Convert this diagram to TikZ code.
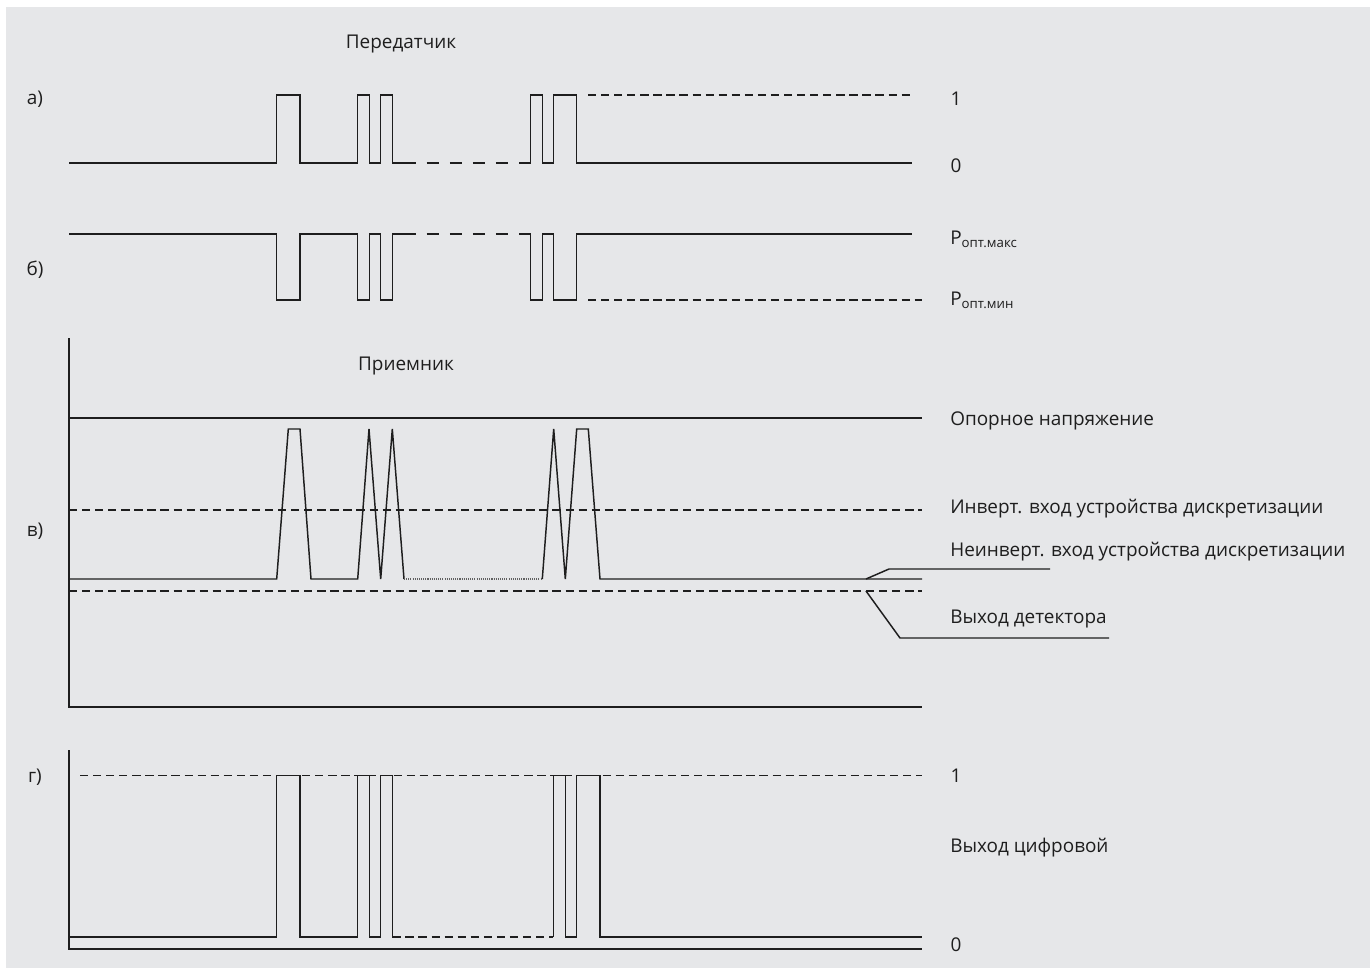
\documentclass[tikz,border=0pt]{standalone}
\usepackage{fontspec}
\setmainfont{Open Sans}
\definecolor{bg}{RGB}{230,231,233}
\definecolor{ln}{RGB}{30,30,30}
\begin{document}
\begin{tikzpicture}[x=0.75pt,y=-0.75pt,
  sig/.style={draw=ln,line width=1.1pt,line join=miter},
  dsh/.style={draw=ln,line width=1.1pt,dash pattern=on 6.2pt off 3.6pt},
  gapdash/.style={draw=ln,line width=1.1pt,dash pattern=on 9.4pt off 7.9pt},
  dots/.style={draw=ln!70,line width=0.8pt,dash pattern=on 0.8pt off 0.8pt},
  lbl/.style={font=\fontsize{14.2pt}{17pt}\selectfont,text=ln,inner sep=0pt},
  rlbl/.style={lbl,anchor=west}]
\useasboundingbox (0,0) rectangle (1370,968);
\fill[bg] (6,7) rectangle (1370,968);

% ---------- а) transmitter electrical ----------
\node[lbl] (ta) at (35,99) {а)};
\node[lbl] (tx) at (401,44) {Передатчик};
\draw[sig] (69,163) -- (276.7,163) -- (276.7,95) -- (300,95) -- (300,163) -- (357.7,163) -- (357.7,95) -- (369.3,95) -- (369.3,163) -- (380.7,163) -- (380.7,95) -- (392.3,95) -- (392.3,163) -- (415.7,163);
\draw[gapdash] (426.7,163) -- (508.3,163);
\draw[sig] (519.3,163) -- (530.7,163) -- (530.7,95) -- (542.3,95) -- (542.3,163) -- (553.7,163) -- (553.7,95) -- (576.7,95) -- (576.7,163) -- (912,163);
\draw[dsh] (588,95) -- (912,95);
\node[lbl] (a1) at (956,99) {1};
\node[lbl] (a0) at (956,166) {0};

% ---------- б) optical power ----------
\node[lbl] (tb) at (35,270) {б)};
\draw[sig] (69,234) -- (276.7,234) -- (276.7,300) -- (300,300) -- (300,234) -- (357.7,234) -- (357.7,300) -- (369.3,300) -- (369.3,234) -- (380.7,234) -- (380.7,300) -- (392.3,300) -- (392.3,234) -- (415.7,234);
\draw[gapdash] (426.7,234) -- (508.3,234);
\draw[sig] (519.3,234) -- (530.7,234) -- (530.7,300) -- (542.3,300) -- (542.3,234) -- (553.7,234) -- (553.7,300) -- (576.7,300) -- (576.7,234) -- (912,234);
\draw[dsh] (588,300) -- (922,300);
\node[rlbl] (pmax) at (950,239) {P\textsubscript{опт.макс}};
\node[rlbl] (pmin) at (950,300) {P\textsubscript{опт.мин}};

% ---------- в) receiver ----------
\node[lbl] (tv) at (35,531) {в)};
\node[lbl] (rx) at (406,366) {Приемник};
\draw[sig] (69,338) -- (69,707) -- (922,707);
\draw[sig] (69,418) -- (922,418);
\draw[dsh] (69,510) -- (922,510);
\draw[dsh] (69,591) -- (922,591);
\draw[sig] (69,579) -- (276.7,579) -- (288.3,429) -- (300,429) -- (311,579) -- (357.7,579) -- (369,429) -- (380.7,579) -- (392.3,429) -- (404,579);
\draw[dots] (404,579) -- (542.3,579);
\draw[sig] (542.3,579) -- (553.7,429) -- (565.3,579) -- (576.7,429) -- (588.3,429) -- (600,579) -- (922,579);
\node[rlbl] (vref) at (950,421) {Опорное напряжение};
\node[rlbl] (vinv) at (950,509) {Инверт. вход устройства дискретизации};
\node[rlbl] (vnon) at (950,552) {Неинверт. вход устройства дискретизации};
\node[rlbl] (vdet) at (950,619) {Выход детектора};
\coordinate (pn) at (866,579);
\coordinate (pd) at (866,591);
\draw[sig] (pn) -- (889,569) -- (1050,569);
\draw[sig] (pd) -- (900,638) -- (1109,638);

% ---------- г) digital output ----------
\node[lbl] (tg) at (35,777) {г)};
\draw[sig] (69,750) -- (69,949) -- (922,949);
\draw[dsh] (80,775.7) -- (922,775.7);
\draw[sig] (69,937) -- (276.7,937) -- (276.7,775.7) -- (300,775.7) -- (300,937) -- (357.7,937) -- (357.7,775.7) -- (369.3,775.7) -- (369.3,937) -- (380.7,937) -- (380.7,775.7) -- (392.3,775.7) -- (392.3,937);
\draw[dsh] (392.3,937) -- (553.3,937);
\draw[sig] (553.3,937) -- (553.3,775.7) -- (565.3,775.7) -- (565.3,937) -- (576.7,937) -- (576.7,775.7) -- (600,775.7) -- (600,937) -- (922,937);
\node[lbl] (g1) at (956,776) {1};
\node[rlbl] (gout) at (950,848) {Выход цифровой};
\node[lbl] (g0) at (956,945) {0};
\end{tikzpicture}
\end{document}
